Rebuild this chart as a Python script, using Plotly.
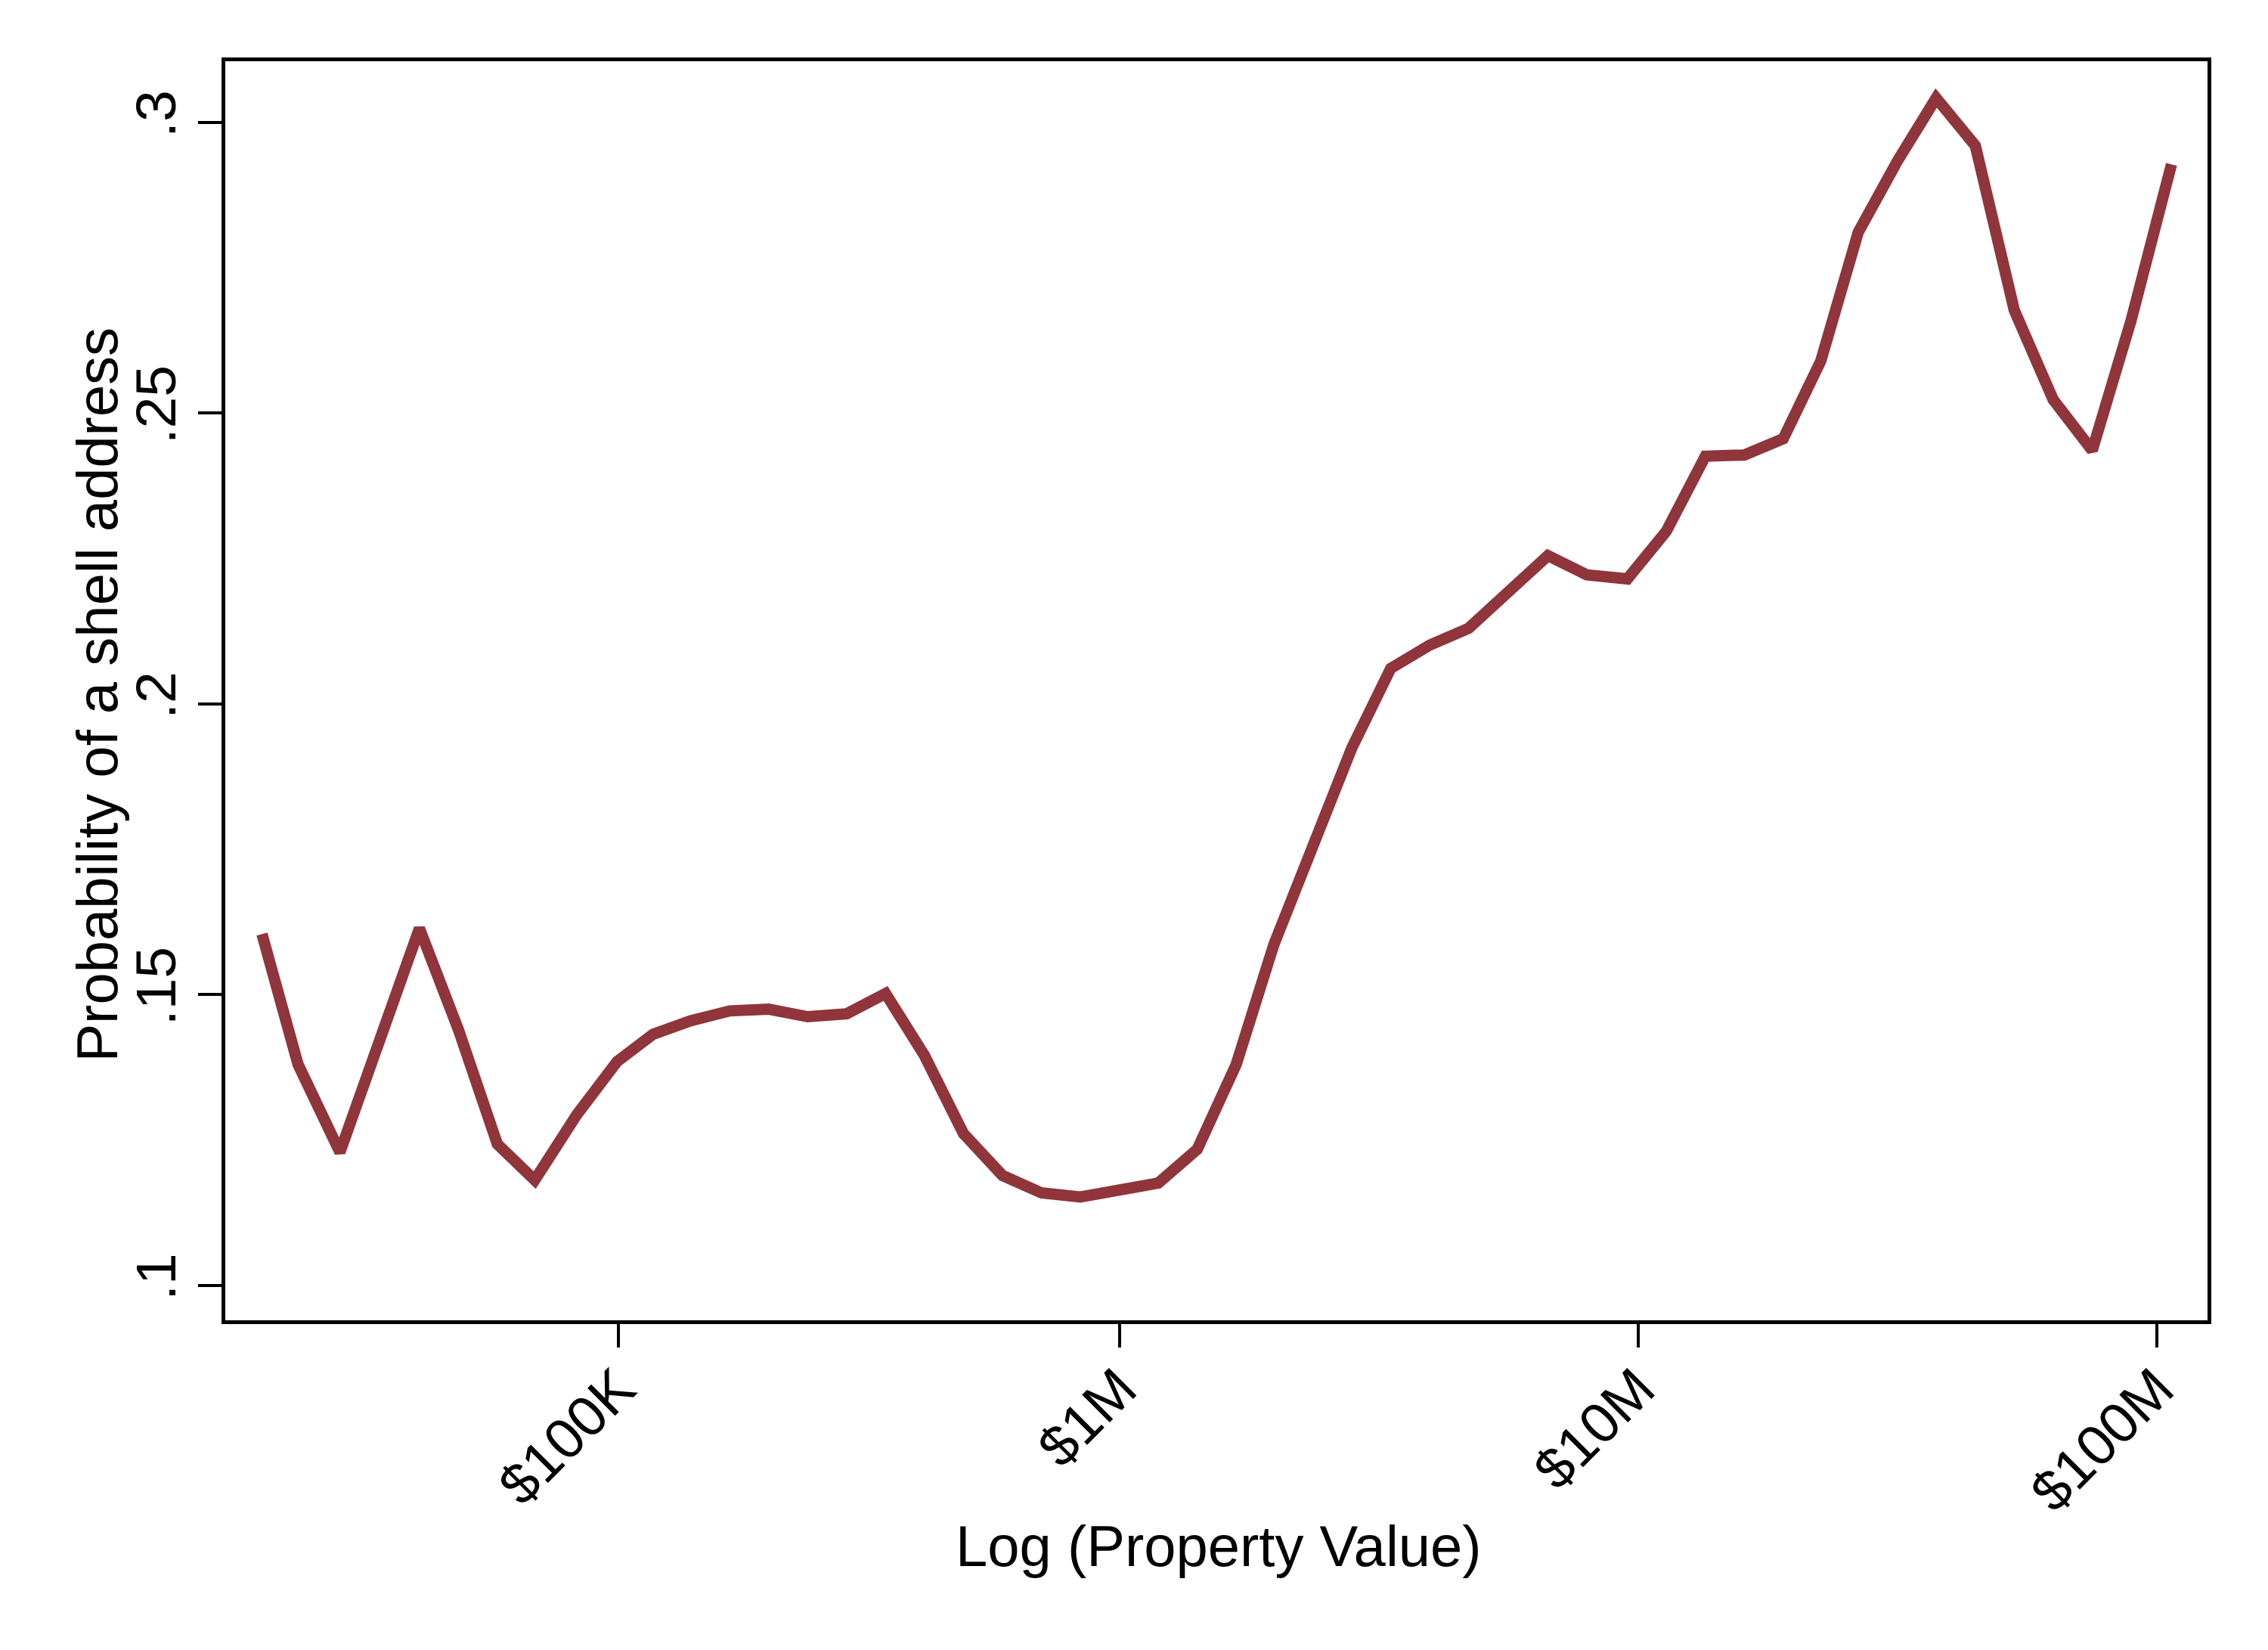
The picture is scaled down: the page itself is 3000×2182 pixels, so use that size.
import plotly.graph_objects as go

# Log (property value), natural-log units
log_value = [10.007, 10.167, 10.353, 10.533, 10.706, 10.879, 11.052, 11.218, 11.404, 11.584,
             11.744, 11.910, 12.084, 12.257, 12.430, 12.603, 12.776, 12.949, 13.122, 13.295,
             13.468, 13.641, 13.814, 13.987, 14.160, 14.333, 14.500, 14.673, 14.846, 15.019,
             15.192, 15.365, 15.538, 15.717, 15.890, 16.070, 16.243, 16.416, 16.589, 16.762,
             16.929, 17.095, 17.268, 17.441, 17.615, 17.788, 17.961, 18.134, 18.307, 18.486]

# Probability of a shell address
probability = [0.1604, 0.1380, 0.1229, 0.1430, 0.1614, 0.1440, 0.1243, 0.1181, 0.1293, 0.1385,
               0.1432, 0.1455, 0.1472, 0.1475, 0.1462, 0.1467, 0.1502, 0.1395, 0.1261, 0.1189,
               0.1159, 0.1152, 0.1164, 0.1176, 0.1234, 0.1380, 0.1586, 0.1755, 0.1924, 0.2061,
               0.2101, 0.2130, 0.2193, 0.2255, 0.2222, 0.2215, 0.2297, 0.2426, 0.2428, 0.2456,
               0.2590, 0.2811, 0.2933, 0.3042, 0.2960, 0.2677, 0.2523, 0.2436, 0.2660, 0.2928]

x_tick_values = [11.590, 13.8155, 16.117, 18.422]
x_tick_labels = ["$100K", "$1M", "$10M", "$100M"]

y_tick_values = [0.10, 0.15, 0.20, 0.25, 0.30]
y_tick_labels = [".1", ".15", ".2", ".25", ".3"]

x_title = "Log (Property Value)"
y_title = "Probability of a shell address"

FONT = "Liberation Sans, Arial, Helvetica, sans-serif"

fig = go.Figure()
fig.add_trace(go.Scatter(
    x=log_value, y=probability, mode="lines",
    line=dict(color="#90353b", width=15),
    showlegend=False, hoverinfo="x+y",
))

axis_common = dict(
    showline=True, linecolor="black", linewidth=5, mirror=True,
    ticks="outside", ticklen=31, tickwidth=4, tickcolor="black",
    showgrid=False, zeroline=False,
    tickfont=dict(family=FONT, size=75, color="black"),
)

fig.update_layout(
    width=3000, height=2182,
    margin=dict(l=290, r=88, t=73, b=444),
    paper_bgcolor="white", plot_bgcolor="white",
    font=dict(family=FONT, size=75, color="black"),
    xaxis=dict(
        range=[9.844, 18.646],
        tickmode="array", tickvals=x_tick_values, ticktext=x_tick_labels,
        tickangle=-45, ticklabelstandoff=-20,
        **axis_common,
    ),
    yaxis=dict(
        range=[0.09399, 0.31052],
        tickmode="array", tickvals=y_tick_values, ticktext=y_tick_labels,
        tickangle=-90,
        **axis_common,
    ),
    annotations=[
        dict(text=x_title, xref="paper", yref="paper", x=0.501, y=-0.179,
             xanchor="center", yanchor="middle", showarrow=False,
             font=dict(family=FONT, size=76, color="black")),
        dict(text=y_title, xref="paper", yref="paper", x=-0.0648, y=0.497,
             xanchor="center", yanchor="middle", showarrow=False, textangle=-90,
             font=dict(family=FONT, size=76, color="black")),
    ],
)

fig.write_html("out.html")
